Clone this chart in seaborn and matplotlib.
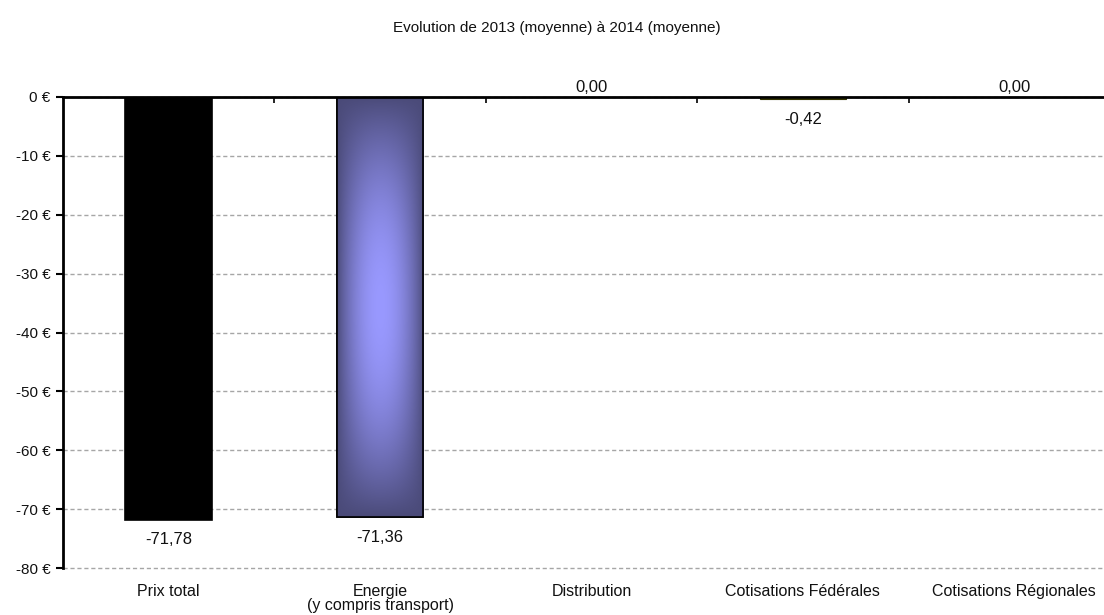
import numpy as np
import pandas as pd
import matplotlib
matplotlib.use("Agg")
import matplotlib.pyplot as plt
import seaborn as sns
from matplotlib.ticker import FixedLocator
from matplotlib.patches import Rectangle

categories = ["Prix total", "Energie\n(y compris transport)", "Distribution",
              "Cotisations Fédérales", "Cotisations Régionales"]
values = [-71.78, -71.36, 0.00, -0.42, 0.00]
yticks = [0, -10, -20, -30, -40, -50, -60, -70, -80]
title = "Evolution de 2013 (moyenne) à 2014 (moyenne)"

sns.set_theme(style="white")
plt.rcParams['font.family'] = ['Liberation Sans', 'DejaVu Sans']

df = pd.DataFrame({"cat": categories, "val": values})
colors = ["#000000", "#5a5a99", "#ffffff", "#b0b000", "#ffffff"]
edges = ["#000000", "#000000", "#ffffff", "#333300", "#ffffff"]

fig = plt.figure(figsize=(11.04, 6.15), dpi=100)
ax = fig.add_axes([63/1104, (615-568)/615, 1057/1104, 471/615])

sns.barplot(data=df, x="cat", y="val", hue="cat", palette=colors, legend=False,
            width=0.41, ax=ax, saturation=1)
for p, ec in zip(ax.patches, edges):
    p.set_edgecolor(ec)
    p.set_linewidth(1.2)
ax.patches[3].set_linewidth(0.8)

# gradient for Energie bar
p = ax.patches[1]
x0, w = p.get_x(), p.get_width()
y0, h = p.get_y(), p.get_height()
nx, ny = 120, 300
u = np.linspace(0, 1, nx)
v = np.linspace(0, 1, ny)
fx = np.sin(np.pi * u) ** 0.8
fy = np.sin(np.pi * v) ** 0.9
t = np.outer(fy, fx)[..., None]
dark = np.array([0x4a, 0x4a, 0x78]) / 255
light = np.array([0x99, 0x99, 0xff]) / 255
img = dark + t * (light - dark)
ax.imshow(img, extent=[x0, x0 + w, y0 + h, y0], aspect='auto', zorder=p.get_zorder() + 0.1,
          interpolation='bilinear')
ax.add_patch(Rectangle((x0, y0), w, h, fill=False, edgecolor='black', lw=1.2,
                       zorder=p.get_zorder() + 0.2))

ax.set_xlim(-0.5, len(categories) - 0.5)
ax.set_ylim(-80, 0)
ax.set_yticks(yticks)
ax.set_yticklabels([f"{v} €" for v in yticks], fontsize=11, color="#111111")
ax.yaxis.grid(True, linestyle=(0, (3, 2)), color="#a6a6a6", linewidth=1)
for gl in ax.get_ygridlines():
    gl.set_clip_on(False)
ax.set_axisbelow(True)
ax.set_xlabel("")
ax.set_ylabel("")

for s in ["right", "bottom"]:
    ax.spines[s].set_visible(False)
ax.spines["left"].set_color("black")
ax.spines["left"].set_linewidth(2)
ax.spines["top"].set_color("black")
ax.spines["top"].set_linewidth(2)

ax.tick_params(axis='y', which='major', left=True, length=5, width=1.5, color='black', pad=4)
ax.tick_params(axis='x', which='major', bottom=False, top=False, labelsize=11.5,
               pad=5.5, labelcolor="#111111")
ax.xaxis.set_minor_locator(FixedLocator(np.arange(0.5, len(categories) - 0.5, 1)))
ax.tick_params(axis='x', which='minor', top=True, bottom=False, direction='in',
               length=4, width=1.2, color='black')
for lab in ax.get_xticklabels():
    lab.set_linespacing(0.92)
    lab.set_va('top')

for i, val in enumerate(values):
    txt = f"{val:.2f}".replace(".", ",")
    if val < 0:
        ax.annotate(txt, (i, val), xytext=(0, -9), textcoords='offset points',
                    ha='center', va='top', fontsize=12, color="#111111")
    else:
        ax.annotate(txt, (i, val), xytext=(0, 1.5), textcoords='offset points',
                    ha='center', va='bottom', fontsize=12, color="#111111",
                    annotation_clip=False)

fig.text(557/1104, 1 - 28/615, title, ha='center', va='center', fontsize=11,
         color="#111111")

fig.savefig("out.png", dpi=100)
